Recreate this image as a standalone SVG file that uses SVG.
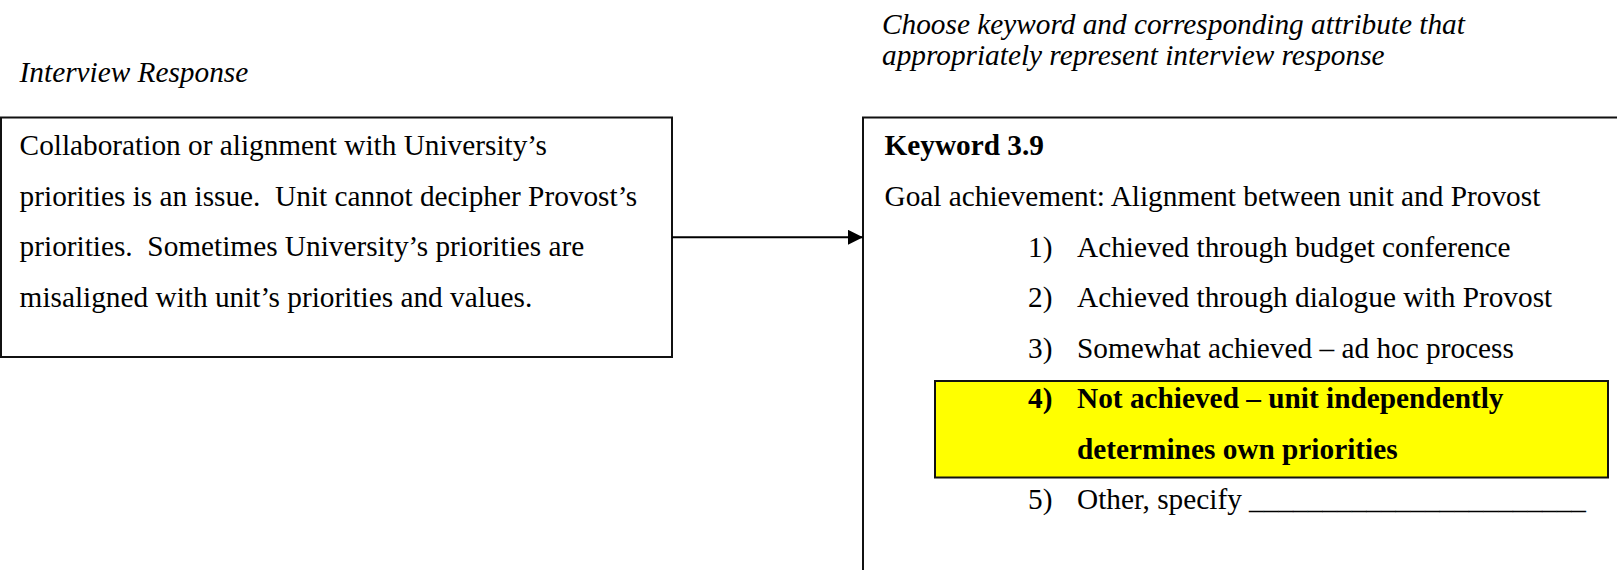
<svg xmlns="http://www.w3.org/2000/svg" width="1617" height="570" viewBox="0 0 1617 570">
<style>
text { font-family: "Liberation Serif", "Times New Roman", serif; font-size: 29.3px; fill: #000; }
.it { font-style: italic; }
.b { font-weight: bold; }
.box { fill: #fff; stroke: #111; stroke-width: 2; }
.hl { fill: #ffff00; stroke: #111; stroke-width: 2; }
.conn { stroke: #000; stroke-width: 2; fill: none; }
</style>
<defs>
<marker id="arrow" markerUnits="userSpaceOnUse" markerWidth="16" markerHeight="16" refX="15" refY="7.5" orient="auto">
<path d="M0,0 L15,7.5 L0,15 Z" fill="#000"/>
</marker>
</defs>
<rect width="1617" height="570" fill="#fff"/>
<text class="it" x="19.6" y="82">Interview Response</text>
<text class="it" x="882" y="33.5">Choose keyword and corresponding attribute that</text>
<text class="it" x="882" y="65">appropriately represent interview response</text>
<g id="response">
<rect class="box" x="1" y="117.5" width="671" height="239.5"/>
<text x="19.6" y="155">Collaboration or alignment with University’s</text>
<text x="19.6" y="205.5" xml:space="preserve">priorities is an issue.  Unit cannot decipher Provost’s</text>
<text x="19.6" y="256" xml:space="preserve">priorities.  Sometimes University’s priorities are</text>
<text x="19.6" y="306.5">misaligned with unit’s priorities and values.</text>
</g>
<g id="keyword">
<rect class="box" x="863" y="117.5" width="800" height="500"/>
<text class="b" x="884.5" y="155">Keyword 3.9</text>
<text x="884.5" y="205.5">Goal achievement: Alignment between unit and Provost</text>
<text x="1028" y="256.5">1)</text><text x="1077" y="256.5">Achieved through budget conference</text>
<text x="1028" y="307">2)</text><text x="1077" y="307">Achieved through dialogue with Provost</text>
<text x="1028" y="357.5">3)</text><text x="1077" y="357.5">Somewhat achieved – ad hoc process</text>
<rect class="hl" x="935" y="381" width="673" height="96.5"/>
<text class="b" x="1028" y="408">4)</text><text class="b" x="1077" y="408">Not achieved – unit independently</text>
<text class="b" x="1077" y="458.5">determines own priorities</text>
<text x="1028" y="509">5)</text><text x="1077" y="509">Other, specify _______________________</text>
</g>
<g id="connectors">
<line class="conn" x1="672" y1="237.3" x2="863" y2="237.3" marker-end="url(#arrow)"/>
</g>
</svg>
